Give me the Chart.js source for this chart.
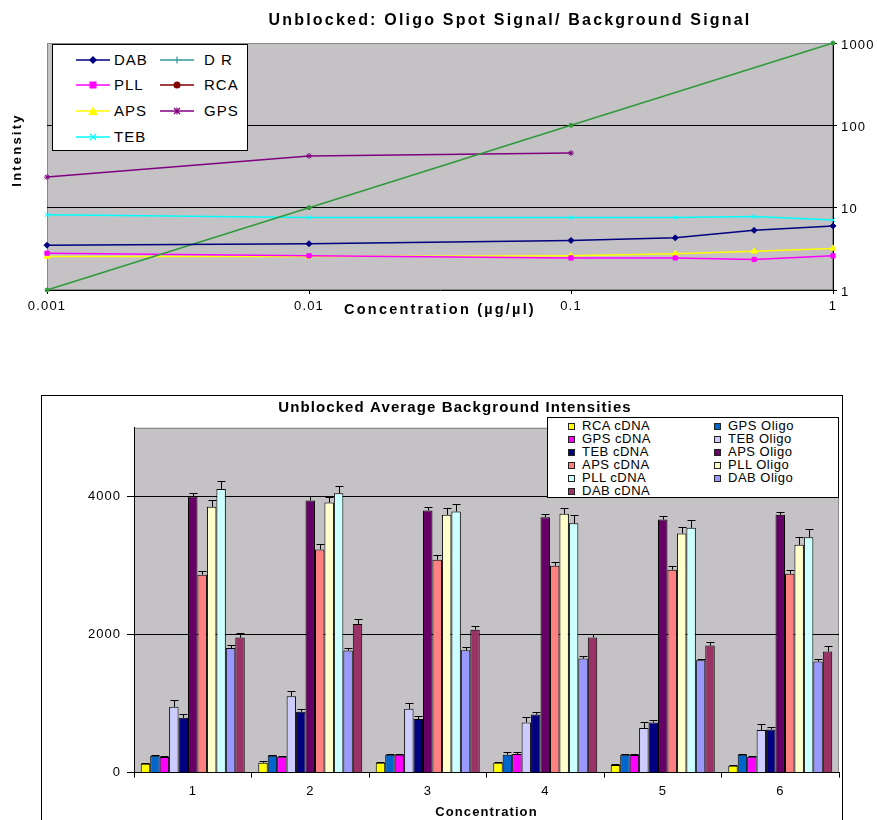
<!DOCTYPE html>
<html><head><meta charset="utf-8">
<script src="https://cdn.jsdelivr.net/npm/chart.js@4.4.0/dist/chart.umd.min.js"></script>
<style>
html,body{margin:0;padding:0;background:#fff;overflow:hidden;width:877px;height:820px;}
body{position:relative;font-family:"Liberation Sans",Arial,sans-serif;}
#topWrap{position:absolute;left:0;top:0;width:1020px;height:330px;}
#botFrame{position:absolute;left:41px;top:395px;width:800px;height:440px;border:1px solid #000;}
canvas{display:block;}
.lg{position:absolute;background:#fff;border:1px solid #000;box-sizing:border-box;}
.it{position:absolute;white-space:nowrap;color:#000;}
.tl{font-size:15px;letter-spacing:1px;line-height:16px;}
.bl{font-size:13px;letter-spacing:0.5px;line-height:13px;}
.sq{position:absolute;width:5px;height:5px;border:1px solid #222;}
</style></head><body>
<div id="topWrap"><canvas id="top" width="1020" height="330"></canvas></div>
<div id="botFrame"><canvas id="bot" width="800" height="440"></canvas></div>
<div id="topLegend" class="lg" style="left:52px;top:44px;width:196px;height:107px"></div>
<div id="botLegend" class="lg" style="left:547px;top:417px;width:292px;height:81px"></div>
<script>
// ---------- Top chart data ----------
const topTitle = 'Unblocked: Oligo Spot Signal/ Background Signal';
const concX = [0.001, 0.01, 0.1, 0.25, 0.5, 1];
const drX = [0.001, 0.01, 0.1, 1];
const gpsX = [0.001, 0.01, 0.1];
const dabSig = [3.5, 3.65, 4.0, 4.3, 5.3, 6.0];
const drSig = [1, 10, 100, 1000];
const pllSig = [2.8, 2.6, 2.45, 2.45, 2.35, 2.6];
const rcaSig = [];
const apsSig = [2.55, 2.55, 2.6, 2.75, 2.95, 3.2];
const gpsSig = [23.5, 42.5, 46];
const tebSig = [8.2, 7.6, 7.6, 7.6, 7.8, 7.1];
const topXTicks = [0.001, 0.01, 0.1, 1];
const topYTicks = [1, 10, 100, 1000];

// ---------- Bottom chart data ----------
const botTitle = 'Unblocked Average Background Intensities';
const concCats = ['1', '2', '3', '4', '5', '6'];
const botYTicks = [0, 2000, 4000];
const rcaCdna = [130, 145, 145, 145, 111, 101];
const gpsOligo = [246, 246, 260, 260, 260, 260];
const gpsCdna = [227, 231, 260, 270, 255, 231];
const tebOligo = [954, 1108, 925, 728, 646, 617];
const tebCdna = [795, 882, 776, 843, 728, 627];
const apsOligo = [4000, 3942, 3798, 3701, 3667, 3735];
const apsCdna = [2867, 3234, 3084, 2998, 2940, 2882];
const pllOligo = [3851, 3913, 3735, 3749, 3465, 3301];
const pllCdna = [4111, 4048, 3783, 3614, 3547, 3412];
const dabOligo = [1807, 1769, 1773, 1653, 1629, 1610];
const dabCdna = [1957, 2154, 2072, 1957, 1841, 1754];
const rcaCdnaErr = [10, 19, 10, 10, 10, 10];
const gpsOligoErr = [10, 10, 10, 39, 10, 10];
const gpsCdnaErr = [10, 10, 10, 29, 10, 10];
const tebOligoErr = [92, 82, 87, 82, 82, 82];
const tebCdnaErr = [48, 34, 48, 39, 34, 29];
const apsOligoErr = [48, 67, 53, 48, 53, 48];
const apsCdnaErr = [53, 82, 67, 53, 48, 58];
const pllOligoErr = [96, 87, 96, 82, 101, 111];
const pllCdnaErr = [111, 101, 116, 116, 116, 116];
const dabOligoErr = [39, 39, 53, 39, 24, 43];
const dabCdnaErr = [63, 72, 53, 58, 48, 87];

const F = '"Liberation Sans", Arial, sans-serif';
const pts = (xs, ys) => ys.map((y, i) => ({x: xs[i], y}));

const plotBg = {
  id: 'plotBg',
  beforeDraw(chart, args, o) {
    const {ctx, chartArea: a} = chart;
    ctx.save();
    ctx.fillStyle = o.color;
    ctx.fillRect(a.left, a.top, a.width, a.height);
    ctx.strokeStyle = o.border; ctx.lineWidth = 1;
    ctx.strokeRect(Math.round(a.left) + 0.5, Math.round(a.top) + 0.5, Math.round(a.width) - 1, Math.round(a.height) - 1);
    ctx.restore();
  }
};

// wider text spacing like the reference (title first, then axis text drawn after datasets)
const spacing = {
  id: 'spacing',
  beforeDraw(chart, args, o) { chart.ctx.letterSpacing = o.title + 'px'; },
  beforeDatasetsDraw(chart, args, o) { chart.ctx.letterSpacing = o.other + 'px'; }
};

const errorBars = {
  id: 'errorBars',
  afterDatasetsDraw(chart) {
    const {ctx} = chart; const ys = chart.scales.y;
    ctx.save(); ctx.strokeStyle = '#000'; ctx.lineWidth = 1;
    chart.data.datasets.forEach((ds, i) => {
      const meta = chart.getDatasetMeta(i);
      meta.data.forEach((bar, j) => {
        const v = ds.data[j], e = ds.errors[j];
        const x = Math.round(bar.x) + 0.5;
        const y2 = Math.round(ys.getPixelForValue(v + e)) + 0.5;
        const hw = Math.round(bar.width * 0.45);
        ctx.beginPath();
        ctx.moveTo(x, bar.y); ctx.lineTo(x, y2);
        ctx.moveTo(x - hw, y2); ctx.lineTo(x + hw, y2);
        ctx.stroke();
      });
    });
    ctx.restore();
  }
};

// ---------- Top chart ----------
const topSeries = [
  {label: 'DAB', data: pts(concX, dabSig), color: '#000080', style: 'rectRot', r: 3, legendColor: '#000080'},
  {label: 'D R', data: pts(drX, drSig), color: '#2E9A3A', style: 'circle', r: 2, legendColor: '#339999', legendStyle: 'cross'},
  {label: 'PLL', data: pts(concX, pllSig), color: '#FF00FF', style: 'rect', r: 3, legendColor: '#FF00FF'},
  {label: 'RCA', data: pts([], rcaSig), color: '#800000', style: 'circle', r: 3, legendColor: '#800000'},
  {label: 'APS', data: pts(concX, apsSig), color: '#FFFF00', style: 'triangle', r: 3.5, legendColor: '#FFFF00'},
  {label: 'GPS', data: pts(gpsX, gpsSig), color: '#800080', style: 'star', r: 3, legendColor: '#800080'},
  {label: 'TEB', data: pts(concX, tebSig), color: '#00FFFF', style: 'crossRot', r: 3, legendColor: '#00FFFF'}
];

new Chart(document.getElementById('top'), {
  type: 'line',
  data: {
    datasets: topSeries.map(s => ({
      label: s.label, data: s.data, borderColor: s.color, backgroundColor: s.color,
      borderWidth: 1.5, pointStyle: s.style, pointRadius: s.r, pointBorderWidth: 1,
      pointBorderColor: s.color, pointBackgroundColor: s.color, tension: 0, clip: false
    }))
  },
  options: {
    responsive: false, animation: false,
    layout: {padding: 0},
    plugins: {
      legend: {display: false}, tooltip: {enabled: false},
      title: {display: true, text: topTitle, color: '#000', font: {family: F, size: 16, weight: 'bold'}, padding: {top: 10.5, bottom: 13.3}},
      plotBg: {color: '#C4C2C4', border: '#8A8A8A'},
      spacing: {title: 2.2, other: 1.2}
    },
    scales: {
      x: {
        type: 'logarithmic', position: 'bottom', min: 0.001, max: 1,
        afterBuildTicks: s => { s.ticks = topXTicks.map(v => ({value: v})); },
        afterFit: s => { s.height = 40; },
        grid: {drawOnChartArea: false, drawTicks: true, tickLength: 4, color: '#000'},
        border: {display: true, color: '#000', width: 1},
        ticks: {z: 1, color: '#000', font: {family: F, size: 13}, padding: 5, maxRotation: 0, autoSkip: false, callback: v => String(v)},
        title: {display: true, text: 'Concentration (µg/µl)', color: '#000', font: {family: F, size: 14.5, weight: 'bold'}, padding: {top: 0, bottom: 11}}
      },
      y: {
        type: 'logarithmic', position: 'right', min: 1, max: 1000,
        afterBuildTicks: s => { s.ticks = topYTicks.map(v => ({value: v})); },
        afterFit: s => { s.width = 187; },
        grid: {drawTicks: true, tickLength: 4, tickColor: '#000',
          color: c => (c.tick && (c.tick.value === 10 || c.tick.value === 100)) ? '#000' : 'rgba(0,0,0,0)'},
        border: {display: true, color: '#000', width: 1},
        ticks: {z: 1, color: '#000', font: {family: F, size: 13}, padding: 4, labelOffset: 2, autoSkip: false, callback: v => String(v)}
      },
      yl: {
        type: 'linear', position: 'left', display: true, stack: 'left', stackWeight: 214, weight: 1,
        afterFit: s => { s.width = 47; },
        grid: {display: false}, border: {display: false}, ticks: {display: false, z: 1},
        title: {display: true, text: 'Intensity', color: '#000', font: {family: F, size: 13, weight: 'bold'}, padding: {top: 10, bottom: 0}}
      },
      yl2: {
        type: 'linear', position: 'left', display: true, stack: 'left', stackWeight: 33, weight: 0,
        afterFit: s => { s.width = 47; },
        grid: {display: false}, border: {display: false}, ticks: {display: false}
      }
    }
  },
  plugins: [plotBg, spacing]
});

// ---------- Bottom chart ----------
const botSeries = [
  {label: 'RCA cDNA', data: rcaCdna, errors: rcaCdnaErr, color: '#FFFF00'},
  {label: 'GPS Oligo', data: gpsOligo, errors: gpsOligoErr, color: '#0066CC'},
  {label: 'GPS cDNA', data: gpsCdna, errors: gpsCdnaErr, color: '#FF00FF'},
  {label: 'TEB Oligo', data: tebOligo, errors: tebOligoErr, color: '#CCCCFF'},
  {label: 'TEB cDNA', data: tebCdna, errors: tebCdnaErr, color: '#000080'},
  {label: 'APS Oligo', data: apsOligo, errors: apsOligoErr, color: '#660066'},
  {label: 'APS cDNA', data: apsCdna, errors: apsCdnaErr, color: '#FF8080'},
  {label: 'PLL Oligo', data: pllOligo, errors: pllOligoErr, color: '#FFFFCC'},
  {label: 'PLL cDNA', data: pllCdna, errors: pllCdnaErr, color: '#CCFFFF'},
  {label: 'DAB Oligo', data: dabOligo, errors: dabOligoErr, color: '#9999FF'},
  {label: 'DAB cDNA', data: dabCdna, errors: dabCdnaErr, color: '#993366'}
];

new Chart(document.getElementById('bot'), {
  type: 'bar',
  data: {
    labels: concCats,
    datasets: botSeries.map(s => ({
      label: s.label, data: s.data, errors: s.errors, backgroundColor: s.color,
      borderColor: '#000', borderWidth: 1, categoryPercentage: 0.885, barPercentage: 1.0
    }))
  },
  options: {
    responsive: false, animation: false,
    layout: {padding: {left: 29, right: 3, top: 0, bottom: 0}},
    plugins: {
      legend: {display: false}, tooltip: {enabled: false},
      title: {display: true, text: botTitle, color: '#000', font: {family: F, size: 15, weight: 'bold'}, padding: {top: 3, bottom: 10.5}},
      plotBg: {color: '#C4C2C4', border: '#8A8A8A'},
      spacing: {title: 1.1, other: 1}
    },
    scales: {
      x: {
        afterFit: s => { s.height = 63.3; },
        grid: {drawOnChartArea: false, drawTicks: true, tickLength: 5, color: '#000', offset: true},
        border: {display: true, color: '#000', width: 1},
        ticks: {z: 1, color: '#000', font: {family: F, size: 13}, padding: 6},
        title: {display: true, text: 'Concentration', color: '#000', font: {family: F, size: 13, weight: 'bold'}, padding: {top: 0, bottom: 16}}
      },
      y: {
        min: 0, max: 5000,
        afterBuildTicks: s => { s.ticks = botYTicks.map(v => ({value: v})); },
        afterFit: s => { s.width = 63; },
        grid: {drawTicks: true, tickLength: 7, tickColor: '#000',
          color: c => (c.tick && c.tick.value === 0) ? 'rgba(0,0,0,0)' : '#000'},
        border: {display: true, color: '#000', width: 1},
        ticks: {z: 1, color: '#000', font: {family: F, size: 13}, padding: 6, callback: v => String(v)}
      }
    }
  },
  plugins: [plotBg, spacing, errorBars]
});

// ---------- HTML legends ----------
function markerSvg(style, color) {
  const c = 17, m = 6;
  let s = '';
  if (style === 'rectRot') s = `<polygon points="${c},${m-4} ${c+4},${m} ${c},${m+4} ${c-4},${m}" fill="${color}"/>`;
  else if (style === 'rect') s = `<rect x="${c-3.5}" y="${m-3.5}" width="7" height="7" fill="${color}"/>`;
  else if (style === 'circle') s = `<circle cx="${c}" cy="${m}" r="3.5" fill="${color}"/>`;
  else if (style === 'triangle') s = `<polygon points="${c},${m-4.5} ${c+5},${m+4} ${c-5},${m+4}" fill="${color}"/>`;
  else if (style === 'cross') s = `<path d="M${c} ${m-3.5}V${m+3.5}" stroke="${color}" stroke-width="1.2"/>`;
  else if (style === 'star') s = `<path d="M${c} ${m-3.5}V${m+3.5}M${c-3} ${m-3}L${c+3} ${m+3}M${c+3} ${m-3}L${c-3} ${m+3}" stroke="${color}" stroke-width="1.2"/>`;
  else if (style === 'crossRot') s = `<path d="M${c-3} ${m-3}L${c+3} ${m+3}M${c+3} ${m-3}L${c-3} ${m+3}" stroke="${color}" stroke-width="1.2"/>`;
  return `<svg width="34" height="12" style="position:absolute;left:0;top:2px" xmlns="http://www.w3.org/2000/svg"><line x1="0" y1="6" x2="34" y2="6" stroke="${color}" stroke-width="1.5"/>${s}</svg>`;
}
const tl = document.getElementById('topLegend');
const topRows = [15, 40, 66, 92], topCols = [{line: 23, text: 61}, {line: 107, text: 151}];
topSeries.forEach((s, i) => {
  const r = Math.floor(i / 2), c = i % 2;
  const d = document.createElement('div');
  d.className = 'it tl';
  d.style.left = topCols[c].line + 'px';
  d.style.top = (topRows[r] - 8) + 'px';
  d.style.paddingLeft = (topCols[c].text - topCols[c].line) + 'px';
  d.innerHTML = markerSvg(s.legendStyle || s.style, s.legendColor) + '<span>' + s.label + '</span>';
  tl.appendChild(d);
});
const bl = document.getElementById('botLegend');
const botRows = [8, 21, 34, 47, 60, 73], botCols = [{sq: 20, text: 34}, {sq: 166, text: 180}];
botSeries.forEach((s, i) => {
  const r = Math.floor(i / 2), c = i % 2;
  const q = document.createElement('div');
  q.className = 'sq';
  q.style.left = botCols[c].sq + 'px'; q.style.top = (botRows[r] - 3) + 'px';
  q.style.background = s.color;
  bl.appendChild(q);
  const t = document.createElement('div');
  t.className = 'it bl';
  t.style.left = botCols[c].text + 'px'; t.style.top = (botRows[r] - 7) + 'px';
  t.textContent = s.label;
  bl.appendChild(t);
});
</script>
</body></html>
